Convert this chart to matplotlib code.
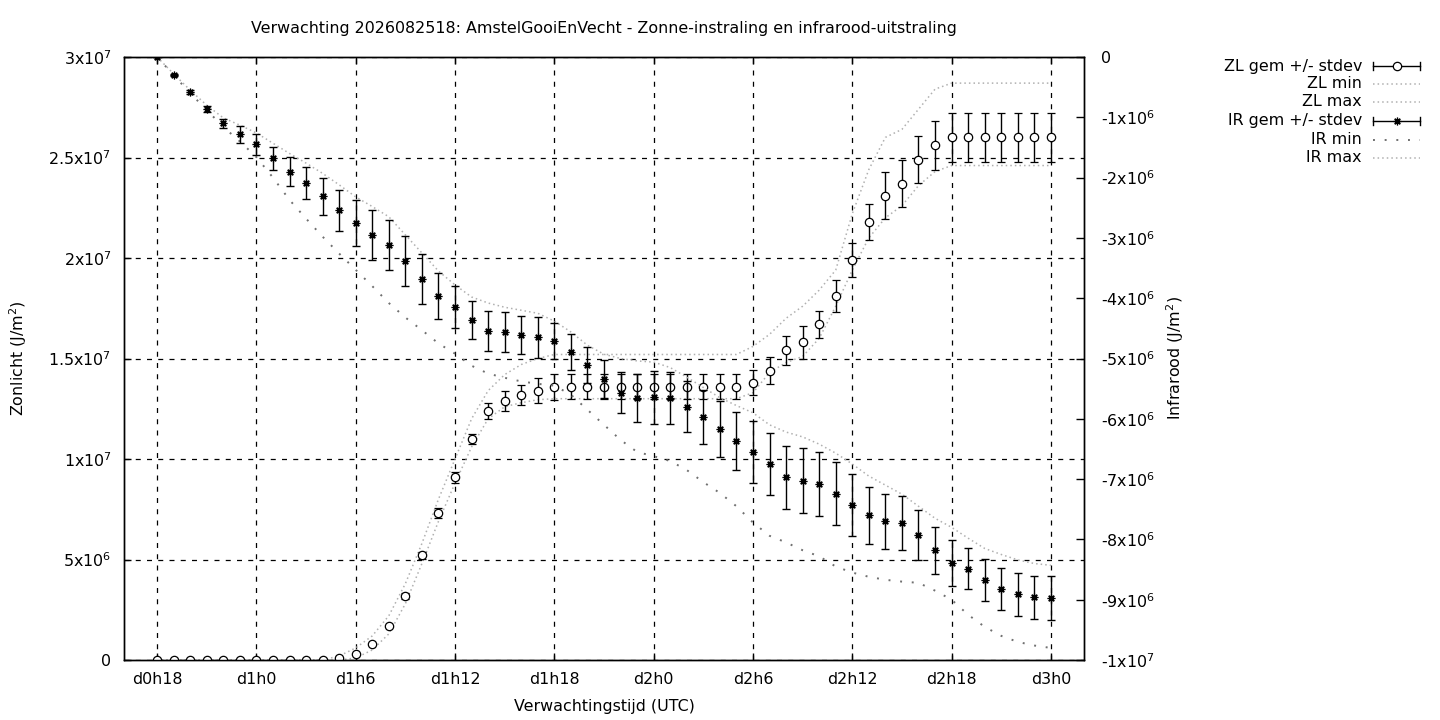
import numpy as np
import matplotlib
matplotlib.use("Agg")
from matplotlib import pyplot as plt
from matplotlib.lines import Line2D

## data (values in 1e6 J/m2, one point per forecast hour) ##
hours = list(range(18, 73))
tick_hours = [18, 24, 30, 36, 42, 48, 54, 60, 66, 72]
tick_names = ["d0h18", "d1h0", "d1h6", "d1h12", "d1h18", "d2h0", "d2h6", "d2h12", "d2h18", "d3h0"]

zl_mean = [0, 0, 0, 0, 0, 0, 0, 0, 0, 0, 0, 0.1, 0.3, 0.8, 1.7, 3.2, 5.2, 7.3, 9.1,
           11.0, 12.4, 12.9, 13.2, 13.4, 13.6,
           13.6, 13.6, 13.6, 13.6, 13.6, 13.6, 13.6, 13.6, 13.6, 13.6, 13.6, 13.8,
           14.4, 15.4, 15.8, 16.7, 18.1, 19.9,
           21.8, 23.1, 23.7, 24.9, 25.6, 26.0,
           26.0, 26.0, 26.0, 26.0, 26.0, 26.0]
zl_std = [0, 0, 0, 0, 0, 0, 0, 0, 0, 0, 0, 0, 0, 0, 0, 0.15, 0.17, 0.25, 0.27,
          0.25, 0.4, 0.5, 0.5, 0.62, 0.65,
          0.63, 0.63, 0.63, 0.63, 0.63, 0.63, 0.63, 0.63, 0.63, 0.63, 0.63, 0.62,
          0.65, 0.7, 0.8, 0.67, 0.8, 0.87,
          0.9, 1.17, 1.17, 1.17, 1.2, 1.2,
          1.2, 1.2, 1.2, 1.2, 1.2, 1.2]
zl_min = [0, 0, 0, 0, 0, 0, 0, 0, 0, 0, 0, 0, 0.1, 0.5, 1.3, 2.8, 4.8, 6.9, 8.8,
          10.6, 12.0, 12.6, 12.8, 12.95, 13.0,
          13.0, 13.0, 13.0, 13.0, 13.0, 13.0, 13.0, 13.0, 13.0, 13.0, 13.0, 13.3,
          14.3, 14.8, 15.1, 16.0, 17.6, 19.4,
          21.0, 22.0, 22.6, 23.6, 24.3, 24.6,
          24.6, 24.6, 24.6, 24.6, 24.6, 24.6]
zl_max = [0, 0, 0, 0, 0, 0, 0, 0, 0, 0, 0, 0.2, 0.6, 1.2, 2.2, 3.8, 5.8, 8.0, 10.0,
          12.0, 13.4, 14.2, 14.7, 15.0, 15.2,
          15.2, 15.2, 15.2, 15.2, 15.2, 15.2, 15.2, 15.2, 15.2, 15.2, 15.2, 15.6,
          16.2, 17.0, 17.6, 18.4, 19.4, 22.2,
          24.4, 26.0, 26.4, 27.4, 28.4, 28.7,
          28.7, 28.7, 28.7, 28.7, 28.7, 28.7]

ir_mean = [0, -0.30, -0.58, -0.86, -1.10, -1.28, -1.45, -1.68, -1.90, -2.09, -2.31,
           -2.54, -2.75, -2.95, -3.12, -3.38, -3.68, -3.96, -4.15,
           -4.36, -4.54, -4.56, -4.61, -4.65, -4.71,
           -4.89, -5.11, -5.34, -5.57, -5.66, -5.64, -5.66,
           -5.80, -5.97, -6.17, -6.37, -6.55,
           -6.75, -6.97, -7.03, -7.08, -7.24, -7.43,
           -7.60, -7.70, -7.73, -7.93, -8.18, -8.39,
           -8.49, -8.67, -8.82, -8.91, -8.96, -8.97]
ir_std = [0, 0.02, 0.03, 0.05, 0.08, 0.14, 0.17, 0.19, 0.24, 0.27, 0.31,
          0.34, 0.38, 0.42, 0.42, 0.41, 0.41, 0.38, 0.35,
          0.31, 0.33, 0.33, 0.32, 0.34, 0.30,
          0.30, 0.30, 0.32, 0.34, 0.40, 0.44, 0.43,
          0.42, 0.44, 0.46, 0.48, 0.51,
          0.52, 0.52, 0.54, 0.53, 0.52, 0.51,
          0.47, 0.46, 0.45, 0.41, 0.39, 0.38,
          0.34, 0.35, 0.35, 0.36, 0.36, 0.36]
ir_min = [0, -0.30, -0.60, -0.88, -1.16, -1.40, -1.66, -2.0, -2.37, -2.68, -2.98,
          -3.26, -3.53, -3.80, -4.08, -4.32, -4.53, -4.75, -4.92,
          -5.12, -5.25, -5.32, -5.38, -5.42, -5.45,
          -5.60, -5.85, -6.10, -6.35, -6.55, -6.62, -6.70,
          -6.85, -7.05, -7.23, -7.45, -7.72,
          -7.94, -8.05, -8.18, -8.28, -8.45, -8.55,
          -8.62, -8.67, -8.70, -8.72, -8.85, -9.0,
          -9.25, -9.45, -9.60, -9.70, -9.76, -9.80]
ir_max = [0, -0.28, -0.55, -0.80, -1.01, -1.13, -1.26, -1.43, -1.60, -1.76, -1.93,
          -2.12, -2.32, -2.48, -2.65, -2.95, -3.25, -3.55, -3.78,
          -3.98, -4.08, -4.15, -4.20, -4.25, -4.38,
          -4.56, -4.78, -4.93, -5.00, -5.04, -5.06, -5.15,
          -5.31, -5.48, -5.65, -5.78, -5.90,
          -6.10, -6.22, -6.30, -6.42, -6.57, -6.75,
          -6.95, -7.10, -7.25, -7.45, -7.65, -7.80,
          -7.98, -8.15, -8.25, -8.34, -8.40, -8.43]

title = "Verwachting 2026082518: AmstelGooiEnVecht - Zonne-instraling en infrarood-uitstraling"
legend_names = ["ZL gem +/- stdev", "ZL min", "ZL max", "IR gem +/- stdev", "IR min", "IR max"]

plt.rcParams['font.family'] = ['DejaVu Sans']
plt.rcParams['mathtext.fontset'] = 'dejavusans'
FS = 11.4


def sci(v):
    # gnuplot style "2.5x10^7"
    if v == 0:
        return "0"
    sign = "-" if v < 0 else ""
    v = abs(v)
    e = int(np.floor(np.log10(v) + 1e-9))
    m = v / 10 ** e
    ms = ("%.1f" % m).rstrip("0").rstrip(".")
    return "%s%sx10$^{%d}$" % (sign, ms, e)


x = np.array(hours)
e6 = 1e6

fig = plt.figure(figsize=(14.4, 7.2), dpi=100)
ax = fig.add_axes([124 / 1440, 60 / 720, 960 / 1440, 603 / 720])
ax2 = ax.twinx()

ax.set_xlim(16, 74)
ax.set_ylim(0, 3e7)
ax2.set_ylim(-1e7, 0)

# grid
ax.set_axisbelow(True)
ax.grid(True, color='black', linestyle=(0, (4, 5)), linewidth=0.9)

fine = (0, (1, 2))
sparse = (0, (1, 5))
asterisk = (8, 2, 0)
cap = 3.2  # matplotlib cap width = 2 * capsize points

# ZL
ax.plot(x, np.array(zl_min) * e6, color='#b0b0b0', linestyle=fine, lw=1.1)
ax.plot(x, np.array(zl_max) * e6, color='#b0b0b0', linestyle=fine, lw=1.1)
ax.errorbar(x, np.array(zl_mean) * e6, yerr=np.array(zl_std) * e6, fmt='o',
            color='black', mfc='white', mec='black', ms=6, mew=0.9,
            elinewidth=1, capsize=cap, capthick=1, zorder=5)

# IR
ax2.plot(x, np.array(ir_min) * e6, color='#707070', linestyle=sparse, lw=1.4)
ax2.plot(x, np.array(ir_max) * e6, color='#b0b0b0', linestyle=fine, lw=1.1)
ax2.errorbar(x, np.array(ir_mean) * e6, yerr=np.array(ir_std) * e6, fmt='none',
             ecolor='black', elinewidth=1, capsize=cap, capthick=1, zorder=5)
ax2.plot(x, np.array(ir_mean) * e6, linestyle='none', marker=asterisk,
         ms=5.5, mew=0.9, color='black', zorder=6)

# ticks
ax.set_xticks(tick_hours)
ax.set_xticklabels(tick_names, fontsize=FS)
lt = [0, 5e6, 1e7, 1.5e7, 2e7, 2.5e7, 3e7]
ax.set_yticks(lt)
ax.set_yticklabels([sci(v) for v in lt], fontsize=FS)
rt = [-k * 1e6 for k in range(11)]
ax2.set_yticks(rt)
ax2.set_yticklabels([sci(v) for v in rt], fontsize=FS)
ax.tick_params(axis='both', direction='in', length=5, width=1, pad=9)
ax.tick_params(axis='x', top=True, pad=9)
ax2.tick_params(axis='y', direction='in', length=6, width=1, pad=12)
for a in (ax, ax2):
    for s in a.spines.values():
        s.set_linewidth(1)
        s.set_color('black')

fig.text(604 / 1440, 1 - 29 / 720, title, ha='center', va='center', fontsize=FS)
fig.text(604 / 1440, 1 - 707 / 720, "Verwachtingstijd (UTC)", ha='center', va='center', fontsize=FS)
fig.text(18 / 1440, 1 - 358 / 720, "Zonlicht (J/m$^2$)", ha='center', va='center',
         rotation=90, fontsize=FS)
fig.text(1175 / 1440, 1 - 358 / 720, "Infrarood (J/m$^2$)", ha='center', va='center',
         rotation=90, fontsize=FS)

# legend, gnuplot style: text right aligned, sample on the right
ly = [66, 84, 102, 121, 140, 158]
x0, x1 = 1373 / 1440, 1420 / 1440
for name, yy in zip(legend_names, ly):
    fy = 1 - yy / 720
    fig.text(1362 / 1440, fy, name, ha='right', va='center', fontsize=FS)
styles = [
    dict(color='#b0b0b0', linestyle=fine, lw=1.1),
    dict(color='#b0b0b0', linestyle=fine, lw=1.1),
    dict(color='#707070', linestyle=sparse, lw=1.4),
    dict(color='#b0b0b0', linestyle=fine, lw=1.1),
]
for i, yy in enumerate([ly[0], ly[3]]):
    fy = 1 - yy / 720
    fig.add_artist(Line2D([x0, x1], [fy, fy], color='black', lw=1))
    for xe in (x0, x1):
        fig.add_artist(Line2D([xe, xe], [fy - 4 / 720, fy + 4 / 720], color='black', lw=1))
    if i == 0:
        fig.add_artist(Line2D([(x0 + x1) / 2], [fy], marker='o', ms=6, mfc='white',
                              mec='black', mew=0.9, linestyle='none'))
    else:
        fig.add_artist(Line2D([(x0 + x1) / 2], [fy], marker=asterisk, ms=5.5, mew=0.9,
                              color='black', linestyle='none'))
for yy, st in zip([ly[1], ly[2], ly[4], ly[5]], styles):
    fy = 1 - yy / 720
    fig.add_artist(Line2D([x0, x1], [fy, fy], **st))

fig.savefig("out.png", dpi=100)
